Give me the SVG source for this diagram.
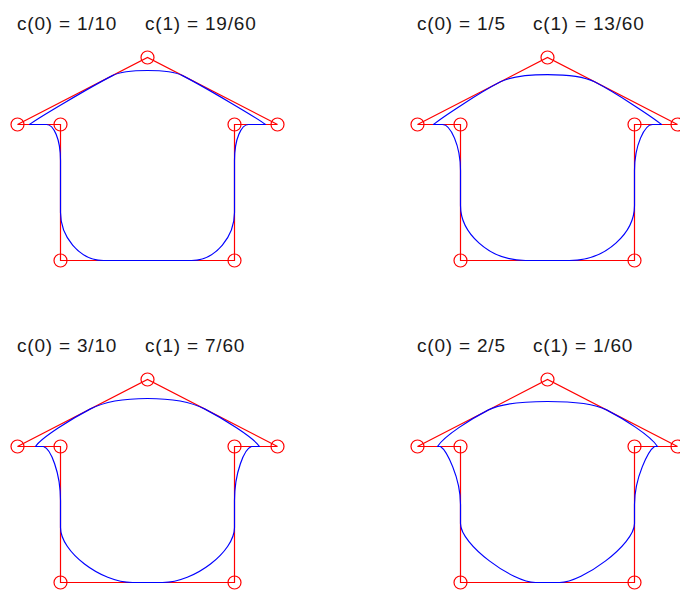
<svg xmlns="http://www.w3.org/2000/svg" width="680" height="593" viewBox="0 0 680 593">
<style>
.lbl{font-family:"Liberation Sans",Arial,sans-serif;font-size:19px;letter-spacing:0.8px;fill:#1a1a1a}
.poly{fill:none;stroke:#ff0000;stroke-width:1.2;stroke-linejoin:miter}
.pt{fill:none;stroke:#ff0000;stroke-width:1.2}
.crv{fill:none;stroke:#0000ff;stroke-width:1.2;stroke-linejoin:round}
</style>
<defs>
<g id="ctrl">
<path class="poly" d="M17,124 L147,57 L277,124 L234,124 L234,260 L60,260 L60,124 Z"/>
<circle class="pt" cx="17" cy="124" r="6.5"/>
<circle class="pt" cx="147" cy="57" r="6.5"/>
<circle class="pt" cx="277" cy="124" r="6.5"/>
<circle class="pt" cx="60" cy="124" r="6.5"/>
<circle class="pt" cx="234" cy="124" r="6.5"/>
<circle class="pt" cx="60" cy="260" r="6.5"/>
<circle class="pt" cx="234" cy="260" r="6.5"/>
</g>
</defs>
<g id="panel1">
<text class="lbl" x="17" y="30">c(0) = 1/10</text>
<text class="lbl" x="145" y="30">c(1) = 19/60</text>
<g transform="translate(0.5,0.5)">
<use href="#ctrl"/>
<path class="crv" d="M29,124 C35,119 90,86.4 112,75.1 C125.2,68.3 168.8,68.3 182,75.1 C204,86.4 259,119 265,124 L248,124 C241,124 234,138 234,160 L234,212 C234,235 216,260 191,260 L103,260 C78,260 60,235 60,212 L60,160 C60,138 53,124 46,124 Z"/>
</g>
</g>
<g id="panel2">
<text class="lbl" x="417" y="30">c(0) = 1/5</text>
<text class="lbl" x="533" y="30">c(1) = 13/60</text>
<g transform="translate(400.5,0.5)">
<use href="#ctrl"/>
<path class="crv" d="M33,124 C40,118 78,92.6 100,81.3 C118.9,71.6 175.1,71.6 194,81.3 C216,92.6 254,118 261,124 L252,124 C244,124 234,145 234,170 L234,205 C234,232 206,260 169,260 L125,260 C88,260 60,232 60,205 L60,170 C60,145 50,124 42,124 Z"/>
</g>
</g>
<g id="panel3">
<text class="lbl" x="17" y="352">c(0) = 3/10</text>
<text class="lbl" x="145" y="352">c(1) = 7/60</text>
<g transform="translate(0.5,322.5)">
<use href="#ctrl"/>
<path class="crv" d="M35,124 C41,115 72,95.7 90,86.4 C116.9,72.5 177.1,72.5 204,86.4 C222,95.7 253,115 259,124 L251,124 C244,126 234,150 234,178 L234,205 C234,229 194,260 162,260 L132,260 C100,260 60,229 60,205 L60,178 C60,150 50,126 43,124 Z"/>
</g>
</g>
<g id="panel4">
<text class="lbl" x="417" y="352">c(0) = 2/5</text>
<text class="lbl" x="533" y="352">c(1) = 1/60</text>
<g transform="translate(400.5,322.5)">
<use href="#ctrl"/>
<path class="crv" d="M37,124 C44,113 71,96.2 88,87.4 C109.7,76.2 184.3,76.2 206,87.4 C223,96.2 250,113 257,124 L254,124 C248,128 234,155 234,182 L234,201 C234,222 182,260 159,260 L135,260 C112,260 60,222 60,201 L60,182 C60,155 46,128 40,124 Z"/>
</g>
</g>
</svg>
